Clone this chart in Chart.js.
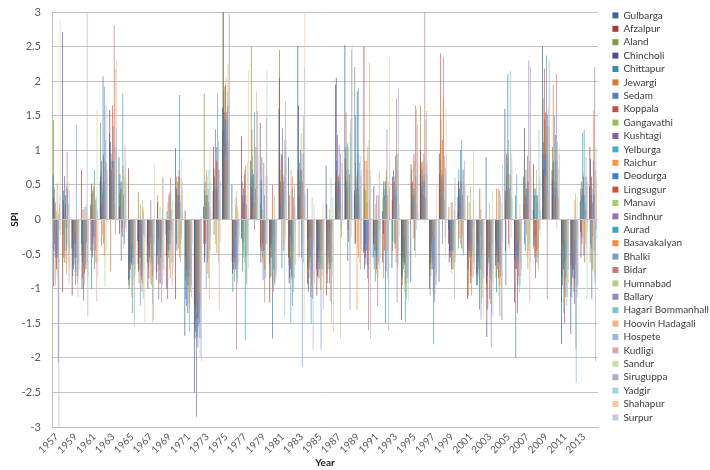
<!DOCTYPE html>
<html>
<head>
<meta charset="utf-8">
<title>SPI by station, 1957-2014</title>
<script src="https://cdn.jsdelivr.net/npm/chart.js@4.4.1/dist/chart.umd.min.js"></script>
<style>
  html, body { margin: 0; padding: 0; background: #fff; }
  #wrap { width: 710px; height: 470px; }
</style>
</head>
<body>
<div id="wrap"><canvas id="spiChart"></canvas></div>
<script>
// categories
const years = [
  "1957", "1958", "1959", "1960", "1961", "1962", "1963", "1964", "1965", "1966",
  "1967", "1968", "1969", "1970", "1971", "1972", "1973", "1974", "1975", "1976",
  "1977", "1978", "1979", "1980", "1981", "1982", "1983", "1984", "1985", "1986",
  "1987", "1988", "1989", "1990", "1991", "1992", "1993", "1994", "1995", "1996",
  "1997", "1998", "1999", "2000", "2001", "2002", "2003", "2004", "2005", "2006",
  "2007", "2008", "2009", "2010", "2011", "2012", "2013", "2014"
];
// only every other year gets a label on the axis
const shownYears = [
  "1957", "1959", "1961", "1963", "1965", "1967", "1969", "1971", "1973", "1975",
  "1977", "1979", "1981", "1983", "1985", "1987", "1989", "1991", "1993", "1995",
  "1997", "1999", "2001", "2003", "2005", "2007", "2009", "2011", "2013"
];

const stations = [
  "Gulbarga", "Afzalpur", "Aland", "Chincholi", "Chittapur", "Jewargi", "Sedam",
  "Koppala", "Gangavathi", "Kushtagi", "Yelburga", "Raichur", "Deodurga", "Lingsugur",
  "Manavi", "Sindhnur", "Aurad", "Basavakalyan", "Bhalki", "Bidar", "Humnabad",
  "Ballary", "Hagari Bommanhall", "Hoovin Hadagali", "Hospete", "Kudligi", "Sandur",
  "Siruguppa", "Yadgir", "Shahapur", "Surpur"
];

// SPI per station, 1957..2014
const gulbarga = [0.64, 2.71, -0.42, -0.35, 0.21, 0.55, 1.25, 0.9, -0.88, -0.31, -0.62, -0.87, -0.22, 1.03, -1.68, -2.5, 0.18, 0.42, 1.62, 0.5, -0.28, 0.85, 1.4, -0.64, 1.6, 0.9, 2.51, 0.45, -0.72, 0.78, 1.95, 2.52, 0.35, -0.48, -0.55, 0.12, -0.7, -0.81, -0.9, 0.66, -1.0, -0.9, -0.15, 0.32, -0.41, -0.95, 0.9, -0.66, 1.6, -0.58, 0.62, 0.15, 2.5, 0.71, -1.8, -1.65, 0.26, 0.48];
const afzalpur = [0.31, -1.05, -1.1, 0.72, -0.45, 0.62, 1.58, 0.18, 0.74, -0.64, -0.38, -0.75, -0.52, -1.15, 0.13, -1.22, -0.35, 1.05, 1.28, -0.62, 1.2, 0.48, -0.4, -1.2, 2.05, -0.55, 0.72, -0.93, -1.1, -1.1, 0.55, 0.88, 0.42, 2.5, -0.35, -0.62, 0.28, -1.45, 0.8, 1.0, -0.72, 0.95, -0.35, 0.12, -1.15, -0.78, -0.92, -0.31, 0.42, -1.2, 0.22, 0.8, 0.95, 0.58, -1.2, -0.66, -0.18, 1.05];
const aland = [1.44, -0.22, -0.68, -0.52, 0.35, 1.4, 0.62, 0.38, -0.95, 0.4, -0.55, -0.32, -0.61, 0.25, -0.88, -1.55, 1.82, 0.12, 3.0, -0.42, -0.18, 2.5, 0.22, -0.85, 2.45, -0.66, 0.92, -0.71, -0.38, -0.52, 0.38, 0.62, 2.2, 0.45, -0.22, 0.31, -0.45, -0.71, 0.52, 1.65, -1.1, 0.66, 0.18, -0.42, 0.35, -0.51, -1.02, -0.85, 0.28, -0.35, 0.85, -0.42, 1.75, 1.05, -0.68, -0.95, 0.45, -0.62];
const chincholi = [-0.97, 0.28, -0.35, -1.0, 0.52, 0.18, 1.12, -0.21, -1.0, -0.75, -1.0, 0.25, -1.0, 0.45, -0.55, -1.72, -0.62, 0.75, 3.0, -0.78, 0.55, 0.32, -0.62, -0.41, 0.85, -0.92, 1.65, -0.28, -0.82, 0.22, 2.05, 0.42, -0.35, -0.72, 0.48, -0.21, 0.62, -0.55, 0.15, 0.38, -0.65, 0.45, -0.62, 0.55, -0.72, -0.35, -1.7, -0.52, -0.45, -0.71, 1.32, -0.38, 0.72, 0.35, -0.35, -0.42, -0.55, 0.88];
const chittapur = [-0.45, 0.42, -0.82, -0.62, -1.0, 0.72, 0.45, 0.65, -0.58, -0.45, -0.28, -0.52, 0.12, -0.35, -1.15, -1.35, 0.42, -0.22, 1.62, -1.05, -0.75, 0.62, 0.58, -0.25, 0.32, -0.85, 0.35, -1.05, -0.45, -0.78, 0.25, 1.05, 0.82, -0.45, -0.72, 0.55, -0.32, -0.85, 0.72, 0.45, -0.55, 0.32, -0.45, 0.72, -0.28, -0.95, -0.45, -1.05, -0.95, 0.35, -0.35, 0.45, 1.12, 0.82, -0.95, -1.12, 0.55, -0.35];
const jewargi = [0.22, -0.55, -0.28, -0.85, 0.15, -0.38, -0.75, 0.55, -0.72, -0.92, -0.71, 0.35, -0.45, 0.62, -0.62, -1.45, -0.55, 0.35, 1.85, -0.25, 0.35, 1.3, -0.45, -0.55, 0.42, 0.35, -0.55, -1.0, -0.15, -0.92, 0.7, 1.55, -0.35, 0.85, -0.45, -0.85, 0.52, -0.95, 0.45, 0.82, -0.82, 1.12, -0.32, -0.28, -1.1, -0.82, -0.55, 0.45, 0.92, -0.62, 0.45, -0.55, 0.65, 1.95, -0.82, -0.45, -0.28, 0.35];
const sedam = [0.45, 0.15, -0.72, -0.45, 0.38, 0.85, 0.95, 0.22, -0.85, -0.35, -0.42, -0.65, -0.35, -0.45, -1.25, -1.62, 0.55, 0.62, 1.35, -0.55, -0.35, 0.72, 0.45, -0.82, 0.25, -0.45, 0.82, -0.55, -0.62, -0.35, 0.85, 0.55, 1.5, -0.35, -0.25, 0.45, 0.72, -0.42, 0.35, 0.55, -0.45, 0.85, -0.55, 0.45, -0.45, -0.62, -0.82, -0.42, 0.95, -2.0, -0.45, 0.35, 0.85, 0.45, -0.65, -0.82, 0.35, -0.42];
const koppala = [-0.35, -0.62, -0.45, 0.15, -0.55, 0.25, 0.72, 0.45, -0.62, -0.55, -0.85, -0.28, -1.15, 0.35, -0.72, -1.25, -0.35, 0.45, 1.55, -0.72, 0.25, 0.45, 0.9, -0.35, 0.55, -0.25, 0.35, -0.85, -0.55, -0.45, 0.45, 0.25, 0.62, -0.55, -0.35, -0.45, 0.35, -0.62, 0.55, 0.72, -0.35, 2.4, -0.45, 0.25, -0.35, -0.55, -1.3, -0.72, 0.62, -0.45, 0.35, -0.25, 2.18, 0.85, -0.45, -0.72, -0.35, 0.62];
const gangavathi = [-0.25, 0.35, -0.55, -0.32, 0.42, 0.55, 0.85, 0.35, -0.45, -0.72, -0.35, -0.45, 0.25, 0.55, -0.55, -1.35, 0.25, 0.72, 1.92, -0.35, -0.55, 0.92, 0.15, -0.45, 0.72, -0.55, 0.45, -0.72, -0.35, -0.65, 0.55, 0.72, 0.35, 0.42, -0.45, 0.25, 0.45, -0.72, 0.35, 0.85, -0.72, 1.45, -0.25, 0.45, 0.25, -0.45, -0.65, -0.55, 0.72, -0.45, 0.55, 0.25, 1.25, 0.72, -0.55, -0.62, 0.25, 0.35];
const kushtagi = [-0.55, 0.63, -0.65, -1.17, -0.35, 0.35, 0.55, -0.6, -0.72, -0.45, -0.55, -1.15, -0.45, 0.25, -0.82, -2.85, 0.35, 1.3, 1.2, -0.62, 0.45, 0.55, -0.35, -0.55, 0.95, -0.72, 0.55, -0.62, -0.85, -0.55, 1.22, 0.45, 0.25, -0.65, -0.45, 0.35, 0.55, -0.55, 0.25, 0.45, -0.55, 0.62, -0.55, 0.35, -0.45, -0.72, -0.55, -0.62, 0.45, -0.72, 0.72, -0.85, 1.45, 0.55, -0.72, -0.85, 0.45, -1.15];
const yelburga = [0.25, -0.45, -0.35, -0.55, -0.45, 0.45, 0.65, 0.55, -0.45, -1.25, -0.45, -0.35, -0.55, 0.45, -0.55, -1.45, -1.0, 0.35, 1.45, -0.9, -0.45, 0.62, -0.55, -0.35, 0.45, -1.5, 0.62, -0.45, -0.72, -0.35, 0.35, 1.1, 0.45, -0.35, -0.9, 0.55, -0.35, -0.72, 0.45, 0.62, -0.62, 0.45, -0.25, 0.55, -0.55, -0.85, -0.62, -0.35, 0.8, 0.65, 0.35, 0.45, 0.85, 1.5, -1.35, -0.55, 1.25, 0.45];
const raichur = [-0.95, -0.12, -0.25, -0.72, 0.48, -0.22, 0.75, -0.18, -0.35, 0.22, -0.62, -0.92, 0.35, -0.42, -0.55, -1.15, 0.72, -0.35, 0.95, -0.12, -0.32, 0.22, -0.62, 0.28, 0.92, 0.72, 0.15, -0.42, -0.08, -0.72, 0.15, 0.62, -1.3, 0.85, 0.22, -0.42, 0.62, -0.25, -0.28, 0.82, -0.18, 0.72, 0.25, -0.35, -0.62, -0.28, -0.12, 0.45, 0.18, -0.32, -0.22, -0.45, 0.62, 0.32, -0.28, -0.45, -0.25, -0.72];
const deodurga = [-0.45, 0.35, -0.55, -0.35, -0.25, 2.07, 0.85, 0.45, -0.65, -0.55, -0.35, -0.45, -0.35, 0.35, -1.35, -1.7, 0.25, 0.45, 1.45, -0.55, 0.35, 0.65, -0.88, -1.72, -0.7, -0.35, 1.0, -0.55, -0.45, -0.62, 0.55, -0.6, 1.85, -0.45, -0.55, -1.5, 0.45, -0.62, 0.35, 0.55, -0.72, 0.55, -0.45, 1.0, -0.35, -1.3, -0.55, -0.62, 2.1, -0.55, 0.45, 0.35, 0.95, 0.45, -0.62, -0.72, 0.35, 0.25];
const lingsugur = [-0.72, 0.22, -0.35, -0.78, 0.45, 0.92, 1.65, -0.12, -0.62, -0.82, -0.25, -0.72, -0.15, 0.62, -0.95, -1.42, 0.35, 0.85, 1.95, -0.25, 0.65, 0.25, -0.45, 0.5, 0.92, -0.82, 0.72, -0.25, -0.72, -0.15, 0.62, -0.15, 0.72, 0.25, -0.72, 0.55, -0.42, -0.65, 0.95, 0.35, -0.25, 1.15, -0.72, 0.55, -0.92, 0.45, -0.45, -0.85, 0.92, -1.35, 0.22, -0.45, 1.55, 0.35, -1.5, -1.05, 0.62, -0.25];
const manavi = [0.12, -0.62, -0.18, -0.95, 0.58, 0.95, 0.28, 0.72, -1.12, -0.08, -0.92, 0.18, -0.72, -0.42, -1.05, -0.65, 0.62, -0.48, 2.05, 0.22, -0.62, 1.12, -0.25, -0.95, 0.08, -0.88, 1.25, -0.18, -0.92, 0.15, 0.08, 1.05, -0.42, 0.72, -0.78, 0.62, -0.35, -1.05, 0.85, 0.18, -0.25, 0.32, -0.78, 0.62, 0.48, -1.02, 0.25, -1.1, 1.15, -0.18, -0.55, 0.72, 1.42, 0.18, -1.02, -0.28, 0.68, -0.75];
const sindhnur = [-0.72, 0.48, -0.95, 0.18, -0.72, -0.35, 1.35, -0.25, -0.32, -0.88, 0.28, -0.92, 0.38, 0.72, -0.28, -1.85, -0.62, 1.05, 1.12, -0.72, 0.72, -0.15, 0.82, -0.22, 1.32, 0.45, -0.55, -1.12, -0.18, -0.92, 1.08, -0.32, 0.95, -0.85, 0.35, -0.75, 0.92, -0.28, -0.45, 0.95, -1.05, -0.35, 0.25, -0.42, -0.82, -0.22, -1.15, 0.42, -0.35, -0.95, 0.92, -0.62, 0.45, 1.22, -0.18, -1.22, -0.52, 0.85];
const aurad = [-0.55, -0.45, -0.75, -0.65, 0.72, 0.55, 0.85, 1.82, -1.35, -0.72, -0.65, -0.55, -0.45, 1.8, -0.85, -1.55, 0.35, 0.45, 1.55, -0.72, -1.75, 1.55, -0.45, -0.72, 0.65, -1.25, 0.72, -1.5, -0.65, -0.72, 0.55, 0.72, 1.9, -0.65, -0.55, 0.45, 0.35, -1.48, 0.45, 0.65, -1.8, 0.65, -0.45, 1.15, -0.55, -0.72, -0.85, -0.65, 0.65, -0.65, 0.55, 0.35, 2.37, 0.85, -0.85, -0.95, 1.3, 0.35];
const basavakalyan = [0.52, -0.78, -0.15, -0.72, 0.22, -0.52, 0.45, 0.78, -0.42, -1.05, -0.95, -0.12, -0.85, -0.55, -1.22, -0.92, -0.78, 0.82, 0.85, 0.32, 0.78, 0.15, -0.72, -1.05, -0.45, 0.62, 0.18, -0.95, -1.02, -1.18, 0.65, 0.25, -0.55, 1.05, -0.18, 0.72, -0.62, -0.92, -0.25, 0.28, -0.38, 1.75, -0.72, -0.25, -1.1, 0.15, -1.22, -0.95, -0.42, -0.82, -0.72, -0.55, 1.35, 0.32, -1.12, 0.28, -0.62, 1.58];
const bhalki = [-0.55, -0.35, 1.37, -0.45, -0.25, 1.92, 0.65, 0.35, -0.55, -0.65, -0.55, -0.45, -0.35, 0.35, -1.62, -1.45, 0.45, 1.82, 1.25, -0.55, -0.55, 0.45, 0.35, -0.72, 0.45, -0.85, -2.13, -0.65, -1.88, -0.72, 0.35, 0.55, 0.45, -0.35, -0.45, 1.3, 0.45, -0.65, 0.35, 0.55, -0.55, 0.45, -0.35, 0.35, -0.45, -1.45, -0.65, -1.4, 0.45, -0.55, 0.45, 0.25, 0.85, 0.55, -0.65, -0.85, 0.35, -0.45];
const bidar = [-0.45, 0.98, -0.55, -0.35, -0.45, 0.45, 2.81, 0.35, -0.65, -0.93, -0.45, -0.35, 0.6, 0.25, -0.72, -1.35, 0.25, 0.45, 1.45, -1.88, 0.35, 0.45, -1.2, -0.45, 0.55, -0.45, 0.55, -0.72, -0.45, -0.55, 0.45, 0.65, 0.35, -1.6, -1.25, 0.35, 1.75, -0.55, 1.65, 3.0, -0.72, 2.35, -0.45, 0.35, -0.45, -0.55, -0.72, -0.55, 0.45, -0.45, 0.55, 0.35, -1.15, 2.1, -0.55, -0.65, 0.25, 0.35];
const humnabad = [-0.82, 0.12, -0.28, 0.22, -0.62, -0.97, 0.18, -0.42, -0.85, 0.28, -0.22, -0.72, 0.42, -0.62, -1.32, -1.05, -0.85, -0.52, 0.55, 0.42, -0.92, 0.32, -0.72, 0.35, -0.45, -1.05, -0.35, 0.32, -0.72, 0.6, -1.72, -0.35, 0.65, -0.92, -0.85, -0.42, 0.85, -1.12, -0.55, -0.05, -0.25, 0.92, -0.62, -0.45, -0.72, -1.22, -0.95, 0.35, 0.25, -0.88, -0.45, -0.72, 0.35, -0.12, -0.95, 0.38, -0.62, -0.82];
const ballary = [-2.07, 0.45, -0.82, -0.32, 0.28, 0.85, 0.22, -0.35, -0.55, 0.18, -0.82, -1.2, 0.15, -0.35, -0.82, -1.5, -0.55, 0.72, 1.65, -0.65, 0.22, 1.05, -0.35, -0.92, 0.62, 0.32, 0.95, -1.15, -0.22, -0.62, 0.95, -1.3, 0.15, -0.72, 0.35, -0.45, -1.2, -0.85, 0.62, 0.32, -1.2, 0.92, -0.45, 0.72, -0.12, -0.75, -1.85, -0.82, 0.65, -0.32, 2.3, -0.42, 1.52, 0.45, -0.82, -1.87, 0.15, 2.2];
const hagariBommanhall = [-0.62, -0.12, -0.92, -0.72, 0.32, 1.15, 1.05, -0.35, -0.65, -1.15, -1.22, -0.62, -0.15, -0.55, -0.92, -1.72, 0.72, 1.12, 1.85, -0.92, -0.92, 0.35, -0.85, -0.95, 1.15, -1.05, -0.62, -0.85, -0.72, -1.22, -0.12, 1.25, 0.82, 1.15, -0.62, -0.85, 0.95, -1.15, -0.15, 0.22, -1.08, 0.25, -0.72, -0.52, -0.45, -0.92, -1.35, -0.25, 2.15, -1.05, -0.35, -0.62, 1.35, 1.12, -1.25, -2.36, 0.62, -0.92];
const hoovinHadagali = [0.08, -0.62, -0.85, 0.18, -0.65, 0.25, 2.18, -0.28, -0.95, 0.12, -1.5, -0.95, -0.22, 0.6, -1.05, -1.15, -1.15, -0.62, 2.25, 0.18, -0.95, 1.85, -0.72, -0.22, -0.35, 0.15, 1.35, -0.32, -0.82, -1.5, -0.28, 0.88, -0.62, 2.27, -0.18, 0.55, -0.72, -0.45, 1.6, 1.45, -0.95, 0.28, 0.15, -0.52, -0.85, -1.12, -0.35, -0.95, 0.62, 0.22, 0.85, -0.72, 1.62, 0.85, -0.22, -1.05, -0.35, 0.72];
const hospete = [-3.0, 0.22, -0.72, 3.0, -0.62, 1.65, -0.18, 0.62, -1.55, -0.22, -0.85, 0.15, -0.62, -0.28, -1.05, -2.0, -0.42, 0.28, 1.05, -0.85, -0.42, 0.72, 0.62, -0.35, -1.4, -0.85, 1.5, -1.88, -0.72, -0.25, -0.15, 1.45, 0.92, 0.28, -0.65, -1.6, -0.45, -0.82, 0.12, 0.82, -0.8, 0.28, -0.62, 0.72, -0.82, -0.42, -0.92, -0.72, 0.25, -0.95, -0.15, 1.3, 0.42, 0.28, -1.12, -0.75, 0.9, -2.05];
const kudligi = [0.15, -0.42, -1.12, -0.62, -1.18, 0.72, -0.22, 1.08, -0.82, -0.15, -1.45, 0.62, -0.97, -0.22, -0.35, -1.25, 0.18, -1.3, 1.15, -0.72, -0.15, 0.62, 1.47, -0.78, -0.25, 0.5, 0.42, -0.32, -0.62, -0.12, -0.25, 0.35, -0.72, -0.45, 0.7, -0.18, 0.72, -0.85, 0.22, 0.68, -0.62, -0.25, -1.15, 0.55, 0.28, -0.45, -0.85, -1.45, -0.25, -0.62, -1.2, -0.15, 0.25, 0.72, -0.42, -0.22, 0.55, -0.52];
const sandur = [-0.15, 0.55, -0.82, -0.22, 1.58, -0.45, 0.22, 0.55, -1.45, -0.72, -0.12, -0.55, -0.82, 0.88, -0.42, -0.85, 1.05, 0.62, 0.95, 0.12, 0.82, 0.42, 0.72, -0.88, 0.22, 0.52, -1.5, -0.22, 0.25, -0.82, 0.22, -0.25, 0.62, -0.45, 0.15, -0.92, 1.05, -0.72, 0.42, 0.08, -0.42, -0.55, 0.35, 0.68, 1.0, -0.32, 0.42, 0.25, 0.72, -0.28, -0.62, 0.55, 0.42, 0.15, -0.35, 0.32, -0.42, 1.05];
const siruguppa = [0.22, -0.93, -0.62, -1.4, 0.15, 0.82, 1.05, -0.12, -0.82, -0.25, -0.32, -0.72, -0.15, 0.42, -0.95, -1.72, -0.25, 0.72, 3.0, -0.12, -0.52, 1.57, -0.35, -0.82, 1.7, 0.18, 0.35, -0.42, -1.3, -0.62, 0.82, 2.45, 0.62, -1.72, -0.15, 0.45, 1.9, -0.92, 1.37, 1.57, -0.82, 0.75, 0.6, 0.85, -0.62, -0.85, -0.35, -1.45, 0.32, -0.82, 2.2, 0.15, 2.3, 0.32, -0.72, -0.95, 0.62, -0.15];
const yadgir = [0.35, -0.52, -0.22, -0.82, 0.12, 0.62, 1.32, 0.85, -0.42, -0.25, -0.72, -0.15, 0.28, 0.55, -1.12, -0.72, -0.45, 0.28, 1.72, -0.35, -0.7, 1.05, 2.15, -0.28, 0.82, -0.18, 2.2, 0.22, -0.72, 0.32, 0.72, 0.42, -0.35, 0.62, -0.72, 0.12, -0.65, -1.18, 0.72, 0.85, -0.95, -0.28, -0.62, 0.18, -0.55, -0.42, -1.4, 0.8, 0.95, -0.25, 0.35, 0.62, 1.12, 0.28, -0.42, -1.12, -1.15, 0.62];
const shahapur = [2.88, -0.72, -0.18, -0.35, -0.62, 0.25, 2.3, 0.55, -0.45, -1.5, 0.8, 0.6, -0.72, 0.12, -1.15, -1.05, 0.55, -0.32, 2.95, -0.62, 2.15, 0.35, 0.62, -0.22, 1.15, -0.65, 2.98, -0.92, -0.25, -0.72, 1.0, 0.25, -0.45, 0.72, -0.55, 2.35, -0.25, -0.72, 0.92, 0.35, 0.5, 1.6, -0.55, 0.22, -0.72, -1.45, -0.92, -0.18, 0.85, -0.72, 1.07, -0.25, 1.35, 1.05, -0.92, -0.35, -0.15, 0.55];
const surpur = [-0.22, 0.42, -0.72, -0.12, -0.82, 0.72, 0.95, -0.15, -0.72, -0.32, -0.38, -0.82, -0.62, 0.12, -0.35, -2.05, 0.15, 0.55, 1.05, -0.25, 0.15, 0.92, -0.45, -0.72, 1.05, -0.62, 0.35, -0.92, -1.05, -1.63, 0.25, 2.52, 0.72, -0.55, -0.32, 0.85, 0.22, -0.82, 0.12, 0.65, -0.72, 0.95, -0.15, 0.52, -0.62, -0.85, -0.72, -0.32, 0.28, -0.72, 0.62, 0.12, 0.65, 0.95, -0.72, -0.95, 0.55, -0.28];

const seriesValues = [
  gulbarga, afzalpur, aland, chincholi, chittapur, jewargi, sedam, koppala,
  gangavathi, kushtagi, yelburga, raichur, deodurga, lingsugur, manavi, sindhnur,
  aurad, basavakalyan, bhalki, bidar, humnabad, ballary, hagariBommanhall,
  hoovinHadagali, hospete, kudligi, sandur, siruguppa, yadgir, shahapur, surpur
];

// office-style palette: base, shade, tint rounds
const stationColors = [
  "#3c63a0", "#a33b38", "#7e9a45", "#5e4a80", "#3a8ea5", "#d97b30",
  "#4f81bd", "#c0504d", "#9bbb59", "#8064a2", "#4bacc6", "#f79646",
  "#3d7fd0", "#d0503a", "#a8cc6e", "#8e78b0", "#3fa5b8", "#f58a3a",
  "#7b9cc9", "#c97b7a", "#b6cf8e", "#9a88b8", "#7cc4d6", "#f5b07d",
  "#a3b9db", "#d9a8a7", "#cadbaf", "#b6aacb", "#a6d4e0", "#f8c9a5",
  "#c5cce0"
];

Chart.defaults.font.family = "Lato, 'Open Sans', sans-serif";
Chart.defaults.color = "#404040";

const datasets = stations.map((name, i) => ({
  label: name,
  data: seriesValues[i],
  backgroundColor: stationColors[i],
  borderWidth: 0,
  categoryPercentage: 0.8,
  barPercentage: 2.8
}));

new Chart(document.getElementById("spiChart"), {
  type: "bar",
  data: { labels: years, datasets: datasets },
  options: {
    responsive: true,
    maintainAspectRatio: false,
    animation: false,
    layout: { padding: { top: 7, right: 0, bottom: 0, left: 0 } },
    plugins: {
      legend: {
        position: "right",
        align: "start",
        maxWidth: 101,
        labels: {
          boxWidth: 6,
          boxHeight: 6,
          padding: 3.4,
          font: { size: 10 },
          color: "#404040"
        }
      },
      tooltip: { enabled: false }
    },
    scales: {
      x: {
        grid: { display: false, drawTicks: false },
        border: { display: true, color: "#bfbfbf" },
        ticks: {
          autoSkip: false,
          minRotation: 45,
          maxRotation: 45,
          padding: 4,
          font: { size: 10 },
          color: "#595959",
          callback: function (value) {
            const label = this.getLabelForValue(value);
            return shownYears.includes(label) ? label : "";
          }
        },
        title: {
          display: true,
          text: "Year",
          font: { size: 10, weight: "bold" },
          color: "#1a1a1a",
          padding: { top: 0, bottom: 1 }
        },
        afterFit: function (axis) { axis.height = 43; }
      },
      y: {
        min: -3,
        max: 3,
        ticks: {
          stepSize: 0.5,
          padding: 11,
          font: { size: 11 },
          color: "#595959",
          callback: (value) => String(Math.round(value * 10) / 10)
        },
        grid: { color: "#c4c4c4", drawTicks: false },
        border: { display: true, color: "#bfbfbf" },
        title: {
          display: true,
          text: "SPI",
          font: { size: 10, weight: "bold" },
          color: "#1a1a1a",
          padding: { top: 9, bottom: 0 }
        },
        afterFit: function (axis) {
          axis.width = 52;
          axis.paddingTop = 12;
        }
      },
      // empty spacer between plot and legend
      gap: {
        position: "right",
        grid: { display: false },
        border: { display: false },
        ticks: { display: false },
        afterFit: function (axis) { axis.width = 11; }
      }
    }
  }
});
</script>
</body>
</html>
